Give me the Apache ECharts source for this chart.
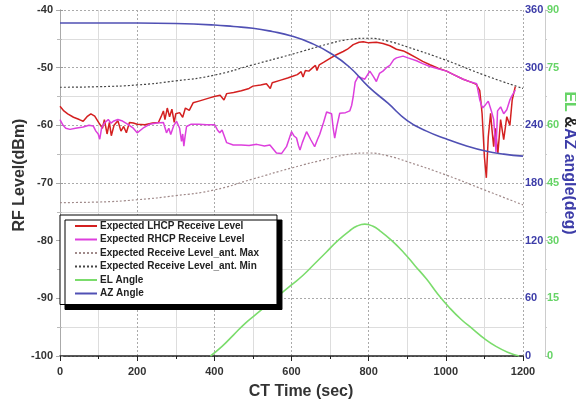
<!DOCTYPE html>
<html>
<head>
<meta charset="utf-8">
<script src="https://cdn.jsdelivr.net/npm/echarts@6/dist/echarts.min.js"></script>
<style>
  html, body { margin: 0; padding: 0; background: #fff; }
  #main { width: 576px; height: 406px; }
</style>
</head>
<body>
<div id="main"></div>
<script>
// [time (sec), level (dBm)]
const lhcp = [
  [0, -56.7], [10, -57.5], [20, -58.0], [35, -58.6], [50, -59.0], [60, -59.3], [70, -58.5], [80, -58.0],
  [90, -58.4], [100, -59.5], [110, -60.5], [115, -59.0], [122, -61.5], [128, -59.5], [133, -61.8], [140, -60.0],
  [150, -59.2], [158, -61.0], [165, -60.2], [172, -61.3], [180, -59.5], [190, -59.6], [200, -59.8], [220, -59.9],
  [240, -59.6], [255, -59.5], [262, -58.5], [268, -57.5], [272, -59.0], [278, -57.0], [284, -58.5], [290, -57.2],
  [296, -59.5], [300, -58.0], [310, -57.8], [318, -58.6], [325, -57.0], [335, -57.4], [345, -56.1], [360, -55.8],
  [375, -55.5], [390, -55.2], [400, -55.0], [415, -54.8], [425, -55.6], [432, -54.5], [450, -54.3], [470, -54.0],
  [490, -53.6], [500, -53.2], [520, -53.0], [535, -52.8], [545, -53.6], [550, -52.6], [570, -52.2], [590, -51.8],
  [603, -51.5], [615, -51.2], [625, -50.7], [630, -51.6], [636, -50.5], [645, -50.6], [655, -50.0], [662, -49.6],
  [666, -50.5], [672, -49.5], [685, -49.0], [702, -48.3], [715, -47.8], [734, -47.2], [745, -46.8], [760, -46.0],
  [775, -45.6], [786, -45.5], [800, -45.7], [820, -45.6], [837, -45.8], [855, -46.2], [872, -46.8], [890, -47.1],
  [902, -47.5], [924, -48.3], [940, -48.9], [959, -49.5], [980, -50.1], [1002, -50.6], [1020, -51.2], [1045, -52.0],
  [1065, -52.5], [1079, -52.9], [1088, -54.0], [1094, -58.0], [1100, -65.5], [1105, -69.1], [1110, -62.0], [1116, -57.9],
  [1120, -61.0], [1124, -63.7], [1128, -60.5], [1135, -64.8], [1142, -59.0], [1150, -62.5], [1158, -58.5], [1166, -60.0],
  [1172, -55.6], [1180, -53.3]
];
const rhcp = [
  [0, -59.0], [8, -60.0], [15, -60.5], [26, -60.7], [40, -60.5], [60, -60.3], [75, -60.0], [86, -60.1],
  [93, -61.0], [99, -61.5], [103, -62.4], [108, -60.4], [115, -59.6], [125, -59.0], [132, -59.6], [138, -59.3],
  [150, -59.0], [160, -59.2], [175, -59.8], [190, -60.5], [200, -61.3], [215, -60.5], [233, -59.8], [250, -59.6],
  [268, -59.5], [276, -61.3], [282, -60.5], [287, -61.6], [295, -60.0], [302, -59.3], [310, -60.5], [315, -62.8],
  [318, -61.5], [321, -63.6], [324, -62.0], [328, -60.2], [340, -59.8], [360, -59.8], [380, -59.9], [401, -59.9],
  [408, -60.8], [414, -61.3], [420, -60.8], [432, -63.0], [449, -63.4], [470, -63.4], [490, -63.5], [510, -63.3],
  [530, -63.6], [544, -63.4], [561, -64.8], [574, -64.9], [587, -63.7], [600, -61.1], [606, -61.8], [613, -62.2],
  [618, -63.5], [622, -64.3], [628, -63.0], [639, -61.1], [650, -62.5], [660, -63.7], [667, -62.5], [673, -61.6],
  [683, -59.5], [691, -57.7], [704, -58.0], [708, -60.5], [712, -62.2], [718, -60.0], [725, -57.9], [740, -57.8],
  [751, -57.5], [756, -56.5], [760, -55.0], [765, -52.5], [773, -51.5], [782, -51.8], [790, -52.0], [803, -50.6],
  [812, -51.5], [820, -52.4], [828, -51.0], [837, -50.6], [846, -50.0], [855, -49.6], [865, -48.6], [872, -48.3],
  [889, -48.0], [902, -48.3], [924, -48.8], [940, -49.3], [959, -49.8], [980, -50.2], [1002, -50.6], [1020, -51.2],
  [1045, -52.0], [1065, -52.5], [1080, -52.8], [1088, -55.6], [1095, -57.0], [1102, -56.5], [1110, -55.8], [1118, -57.5],
  [1124, -59.0], [1130, -64.6], [1134, -57.5], [1142, -56.8], [1150, -58.0], [1158, -57.3], [1166, -55.6], [1172, -54.8],
  [1180, -53.9]
];
// lower dotted curve (legend: ant. Max)
const antMax = [
  [0, -73.4], [100, -73.3], [200, -72.9], [300, -72.2], [400, -71.2], [500, -69.3], [600, -67.4],
  [700, -65.7], [750, -65.0], [800, -64.8], [850, -65.3], [900, -66.3], [1000, -68.6], [1100, -71.2], [1200, -73.8]
];
// upper dotted curve (legend: ant. Min)
const antMin = [
  [0, -53.4], [100, -53.3], [200, -53.0], [300, -52.3], [400, -51.3], [500, -49.5], [600, -47.7],
  [700, -45.8], [750, -45.1], [800, -44.9], [850, -45.4], [900, -46.4], [1000, -48.7], [1100, -51.3], [1200, -53.6]
];
// [time, deg]
const elAngle = [
  [390, 0], [420, 2.5], [450, 5.5], [480, 8.5], [510, 11], [540, 13.5], [570, 16], [600, 18.5],
  [630, 21], [660, 24], [690, 27], [720, 30], [750, 32.5], [770, 33.8], [790, 34.3], [810, 33.8],
  [830, 32.5], [860, 30], [890, 27], [920, 23.5], [950, 20], [980, 16], [1010, 12.5], [1040, 9.5],
  [1070, 7], [1100, 4.5], [1130, 2.5], [1160, 1], [1190, 0]
];
const azAngle = [
  [0, 346.5], [200, 346.5], [300, 346], [400, 344.4], [450, 342.8], [500, 341], [550, 337.6],
  [600, 333], [650, 325.7], [700, 315.3], [750, 300.7], [800, 280], [850, 263], [900, 245],
  [950, 234], [1000, 226], [1050, 219], [1100, 213.5], [1150, 210], [1200, 208]
];

const labelFont = { color: '#333', fontWeight: 'bold', fontSize: 11, fontFamily: 'Liberation Sans' };

const chart = echarts.init(document.getElementById('main'));
chart.setOption({
  animation: false,
  backgroundColor: '#fff',
  grid: { left: 60, right: 53, top: 10, bottom: 50 },
  legend: {
    orient: 'vertical',
    left: 60,
    top: 215,
    padding: [6, 18, 6, 14],
    itemWidth: 22,
    itemHeight: 10,
    itemGap: 3.5,
    backgroundColor: '#fff',
    borderColor: '#000',
    borderWidth: 1,
    borderRadius: 0,
    shadowColor: '#000',
    shadowBlur: 0,
    shadowOffsetX: 5,
    shadowOffsetY: 5,
    itemStyle: { opacity: 0 },
    textStyle: { color: '#222', fontWeight: 'bold', fontSize: 10, fontFamily: 'Liberation Sans', padding: [0, 0, 0, -2] },
    data: [
      'Expected LHCP Receive Level', 'Expected RHCP Receive Level',
      'Expected Receive Level_ant. Max', 'Expected Receive Level_ant. Min',
      'EL Angle', 'AZ Angle'
    ]
  },
  xAxis: {
    type: 'value',
    min: 0, max: 1200, interval: 200,
    axisLine: { show: true, onZero: false, lineStyle: { color: '#222', width: 1.5 } },
    axisTick: { show: true, length: 5, lineStyle: { color: '#222' } },
    minorTick: { show: true, splitNumber: 2, length: 3, lineStyle: { color: '#222' } },
    axisLabel: Object.assign({ margin: 10, formatter: v => String(v) }, labelFont),
    splitLine: { show: true, lineStyle: { color: '#aaa', type: [2, 2] } },
    minorSplitLine: { show: true, lineStyle: { color: '#ddd' } }
  },
  yAxis: [
    {
      type: 'value',
      min: -100, max: -40, interval: 10,
      axisLine: { show: true, onZero: false, lineStyle: { color: '#aaa' } },
      axisTick: { show: true, length: 4, lineStyle: { color: '#aaa' } },
      minorTick: { show: true, splitNumber: 2, length: 3, lineStyle: { color: '#bbb' } },
      axisLabel: Object.assign({ margin: 7 }, labelFont),
      splitLine: { show: true, lineStyle: { color: '#aaa', type: [2, 2] } },
      minorSplitLine: { show: true, lineStyle: { color: '#ddd' } }
    },
    {
      type: 'value',
      position: 'right',
      min: 0, max: 360, interval: 60,
      axisLine: { show: true, lineStyle: { color: '#aaa' } },
      axisTick: { show: true, length: 3, lineStyle: { color: '#999' } },
      minorTick: { show: true, splitNumber: 2, length: 2, lineStyle: { color: '#bbb' } },
      axisLabel: { margin: 2, color: '#3c3ca8', fontWeight: 'bold', fontSize: 11, fontFamily: 'Liberation Sans' },
      splitLine: { show: false }
    },
    {
      type: 'value',
      position: 'right',
      offset: 22,
      min: 0, max: 90, interval: 15,
      axisLine: { show: true, lineStyle: { color: '#ccc' } },
      axisTick: { show: true, length: 3, lineStyle: { color: '#bbb' } },
      minorTick: { show: true, splitNumber: 2, length: 2, lineStyle: { color: '#ccc' } },
      axisLabel: { margin: 2, color: '#66d466', fontWeight: 'bold', fontSize: 11, fontFamily: 'Liberation Sans' },
      splitLine: { show: false }
    }
  ],
  graphic: [
    {
      type: 'text', x: 20, y: 175, rotation: Math.PI / 2,
      style: { text: 'RF Level(dBm)', align: 'center', verticalAlign: 'middle',
        fill: '#333', font: 'bold 16px "Liberation Sans"' }
    },
    {
      type: 'text', x: 301, y: 392,
      style: { text: 'CT Time (sec)', align: 'center', verticalAlign: 'middle',
        fill: '#333', font: 'bold 16px "Liberation Sans"' }
    },
    {
      type: 'text', x: 569, y: 163, rotation: -Math.PI / 2,
      style: {
        text: '{g|EL }{k|&}{b|AZ angle(deg)}', align: 'center', verticalAlign: 'middle',
        rich: {
          g: { fill: '#66d466', font: 'bold 16px "Liberation Sans"' },
          k: { fill: '#222', font: 'bold 16px "Liberation Sans"' },
          b: { fill: '#3c3ca8', font: 'bold 16px "Liberation Sans"' }
        }
      }
    }
  ],
  series: [
    {
      name: 'Expected Receive Level_ant. Min', type: 'line', data: antMin, smooth: true,
      symbol: 'none', lineStyle: { color: '#444', width: 1.2, type: [2, 2] }, itemStyle: { color: '#444' }
    },
    {
      name: 'Expected Receive Level_ant. Max', type: 'line', data: antMax, smooth: true,
      symbol: 'none', lineStyle: { color: '#a08a8a', width: 1.2, type: [2, 2] }, itemStyle: { color: '#a08a8a' }
    },
    {
      name: 'Expected LHCP Receive Level', type: 'line', data: lhcp,
      symbol: 'none', lineStyle: { color: '#d42020', width: 1.5 }, itemStyle: { color: '#d42020' }
    },
    {
      name: 'Expected RHCP Receive Level', type: 'line', data: rhcp,
      symbol: 'none', lineStyle: { color: '#dd3fdd', width: 1.5 }, itemStyle: { color: '#dd3fdd' }
    },
    {
      name: 'EL Angle', type: 'line', yAxisIndex: 2, data: elAngle, smooth: true,
      symbol: 'none', lineStyle: { color: '#7bdc6c', width: 1.6 }, itemStyle: { color: '#7bdc6c' }
    },
    {
      name: 'AZ Angle', type: 'line', yAxisIndex: 1, data: azAngle, smooth: true,
      symbol: 'none', lineStyle: { color: '#5050b4', width: 1.6 }, itemStyle: { color: '#5050b4' }
    }
  ]
});
</script>
</body>
</html>
